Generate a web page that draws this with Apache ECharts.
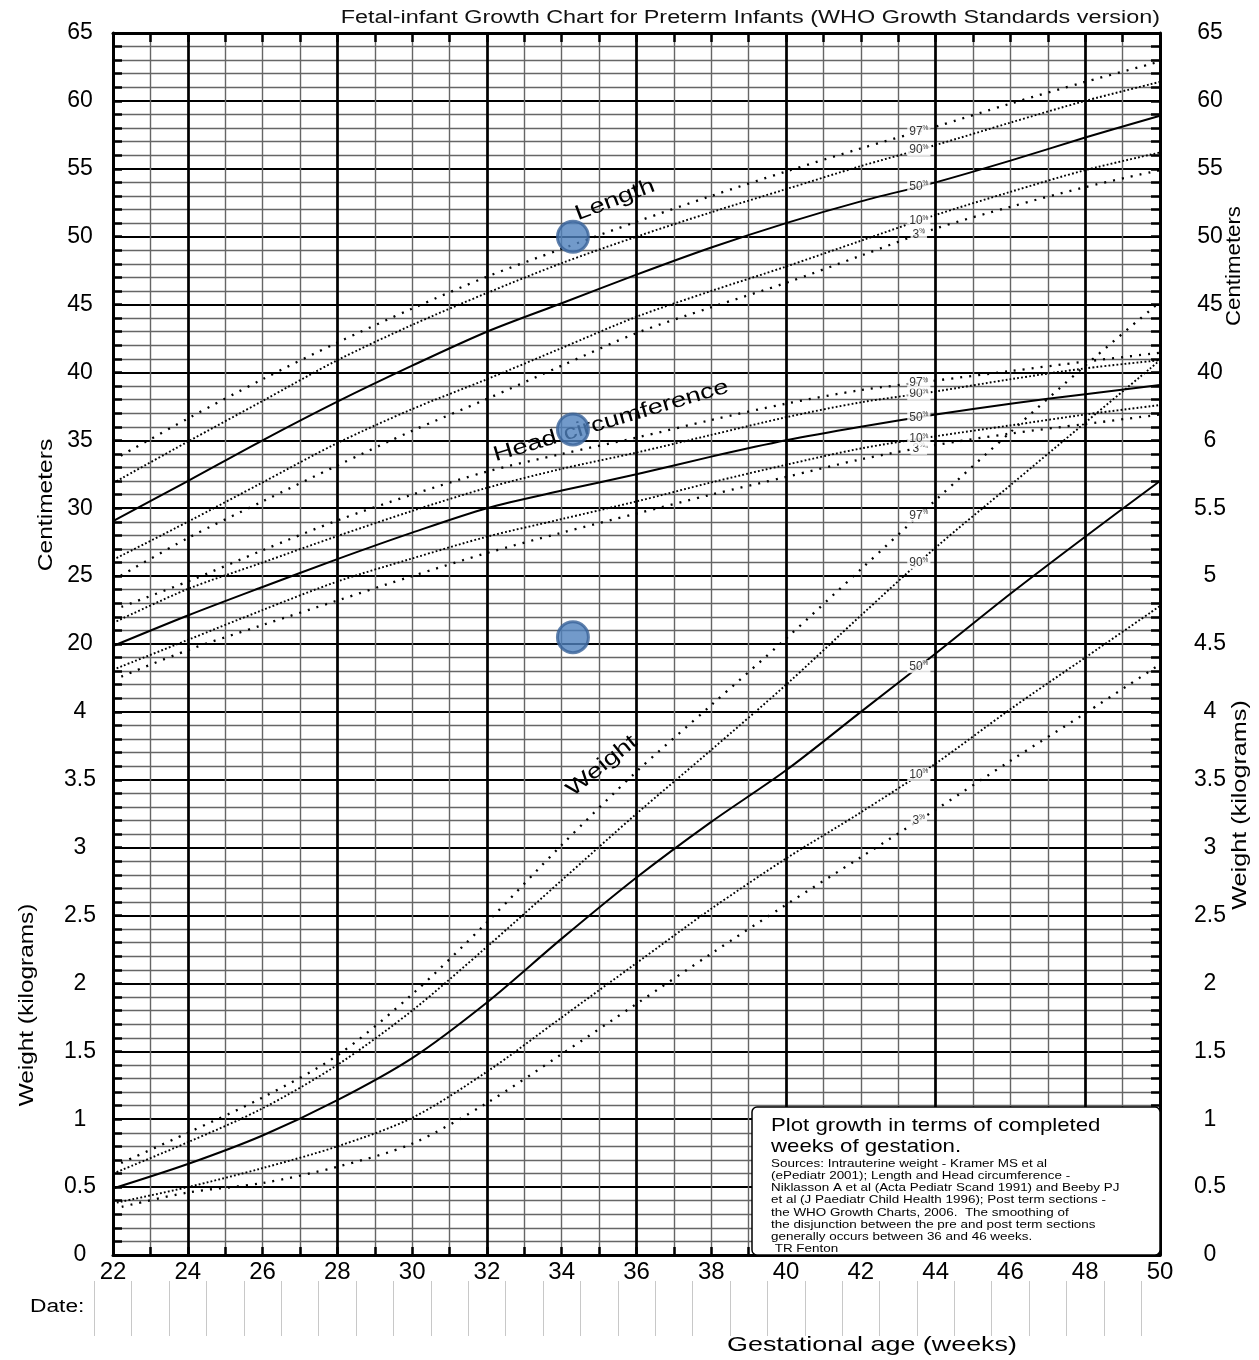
<!DOCTYPE html>
<html>
<head>
<meta charset="utf-8">
<title>Fetal-infant Growth Chart for Preterm Infants</title>
<script src="https://cdn.jsdelivr.net/npm/echarts@6.0.0/dist/echarts.min.js"></script>
<style>
html, body { margin: 0; padding: 0; background: #fff; }
#main { width: 1259px; height: 1360px; }
</style>
</head>
<body>
<div id="main"></div>
<script>
// gestational weeks of the curve points
var weeks = [22, 24, 26, 28, 30, 32, 34, 36, 38, 40, 42, 44, 46, 48, 50];

// length (cm)
var len97 = [33.55, 36.6, 39.5, 42.2, 44.7, 47.05, 49.1, 51.1, 53.0, 54.8, 56.5, 58.1, 59.8, 61.4, 62.9];
var len90 = [31.85, 34.9, 37.9, 40.9, 43.5, 45.85, 48.05, 50.0, 51.8, 53.5, 55.2, 56.75, 58.4, 60.0, 61.4];
var len50 = [29.05, 32.0, 35.0, 37.85, 40.5, 43.0, 45.1, 47.2, 49.2, 51.0, 52.6, 54.0, 55.6, 57.3, 58.9];
var len10 = [26.2, 29.0, 31.9, 34.8, 37.3, 39.5, 41.8, 44.1, 46.0, 47.8, 49.7, 51.6, 53.3, 54.9, 56.2];
var len3 = [24.7, 27.8, 30.5, 33.15, 35.7, 38.05, 40.5, 42.9, 44.8, 46.6, 48.6, 50.6, 52.2, 53.65, 54.9];

// head circumference (cm)
var head97 = [22.5, 24.6, 26.9, 29.1, 31.0, 32.7, 34.0, 35.2, 36.5, 37.7, 38.7, 39.4, 40.1, 40.8, 41.45];
var head90 = [21.55, 24.05, 26.0, 27.95, 29.8, 31.5, 32.9, 34.1, 35.4, 36.7, 37.8, 38.6, 39.5, 40.3, 40.9];
var head50 = [19.85, 22.1, 24.2, 26.25, 28.2, 30.0, 31.3, 32.5, 33.8, 35.0, 36.0, 36.9, 37.7, 38.4, 39.07];
var head10 = [18.1, 20.3, 22.5, 24.6, 26.3, 27.9, 29.2, 30.5, 31.9, 33.2, 34.4, 35.3, 36.1, 36.9, 37.6];
var head3 = [17.35, 19.55, 21.4, 23.2, 25.0, 26.7, 28.2, 29.6, 31.0, 32.3, 33.6, 34.65, 35.5, 36.2, 36.9];

// weight (kg)
var wt97 = [0.65, 0.90, 1.16, 1.47, 1.92, 2.45, 3.02, 3.56, 4.05, 4.54, 5.05, 5.56, 6.06, 6.55, 7.02];
var wt90 = [0.60, 0.83, 1.08, 1.40, 1.80, 2.27, 2.76, 3.25, 3.72, 4.20, 4.71, 5.21, 5.67, 6.13, 6.59];
var wt50 = [0.49, 0.67, 0.88, 1.14, 1.45, 1.86, 2.33, 2.78, 3.19, 3.57, 4.00, 4.43, 4.87, 5.29, 5.70];
var wt10 = [0.38, 0.50, 0.64, 0.80, 1.01, 1.35, 1.75, 2.15, 2.55, 2.92, 3.26, 3.62, 4.02, 4.40, 4.78];
var wt3 = [0.34, 0.46, 0.53, 0.65, 0.82, 1.12, 1.48, 1.85, 2.22, 2.58, 2.93, 3.28, 3.64, 3.99, 4.35];

// plotted measurements of the infant
var babyWeek = 34.3;
var babyLength = 50.0;
var babyHead = 35.8;
var babyWeight = 4.55;

// tick labels of the two vertical axes (one per 5 units of the shared scale)
var leftTicks = ['0', '0.5', '1', '1.5', '2', '2.5', '3', '3.5', '4', '20', '25', '30', '35', '40', '45', '50', '55', '60', '65'];
var rightTicks = ['0', '0.5', '1', '1.5', '2', '2.5', '3', '3.5', '4', '4.5', '5', '5.5', '6', '40', '45', '50', '55', '60', '65'];
var boldWeeks = [24, 28, 32, 36, 40, 44, 48];
var pctNames = ['3', '10', '50', '90', '97'];

var FONT = '"Liberation Sans", Arial, sans-serif';

// both measures share one scale: cm -> c + 25, kg -> kg * 10
function cm(v) { return v + 25; }
function kg(v) { return v * 10; }

function pairs(arr, f) {
  return weeks.map(function (w, i) { return [w, f(arr[i])]; });
}
function at(arr, w) {
  for (var i = 0; i < weeks.length - 1; i++) {
    if (w >= weeks[i] && w <= weeks[i + 1]) {
      var t = (w - weeks[i]) / (weeks[i + 1] - weeks[i]);
      return arr[i] + t * (arr[i + 1] - arr[i]);
    }
  }
  return arr[arr.length - 1];
}

var groups = [
  { arr: [len3, len10, len50, len90, len97], f: cm },
  { arr: [head3, head10, head50, head90, head97], f: cm },
  { arr: [wt3, wt10, wt50, wt90, wt97], f: kg }
];

var lineStyles = {
  '3': { color: '#000', width: 2.3, type: [2, 7] },
  '10': { color: '#000', width: 1.9, type: [1.8, 2.2] },
  '50': { color: '#000', width: 2, type: 'solid' },
  '90': { color: '#000', width: 1.9, type: [1.8, 2.2] },
  '97': { color: '#000', width: 2.3, type: [2, 7] }
};

var series = [];
var labelData = [];
groups.forEach(function (g) {
  g.arr.forEach(function (a, k) {
    series.push({
      type: 'line',
      xAxisIndex: 0,
      yAxisIndex: 0,
      data: pairs(a, g.f),
      smooth: 0.3,
      showSymbol: false,
      silent: true,
      lineStyle: lineStyles[pctNames[k]],
      z: 3
    });
    labelData.push({ value: [43.55, g.f(at(a, 43.55))], pct: pctNames[k] });
  });
});

// bold vertical grid lines
series.push({
  type: 'line',
  xAxisIndex: 0,
  yAxisIndex: 0,
  data: [[22, 0]],
  showSymbol: false,
  lineStyle: { opacity: 0 },
  silent: true,
  z: 1,
  markLine: {
    silent: true,
    symbol: ['none', 'none'],
    label: { show: false },
    lineStyle: { color: '#000', width: 2.7, type: 'solid' },
    data: boldWeeks.map(function (w) { return { xAxis: w }; })
  }
});

// percentile labels
series.push({
  type: 'scatter',
  xAxisIndex: 0,
  yAxisIndex: 0,
  data: labelData,
  symbolSize: 0,
  silent: true,
  z: 6,
  label: {
    show: true,
    position: 'inside',
    backgroundColor: '#fff',
    padding: [0, 2, 0, 2],
    formatter: function (p) { return '{n|' + p.data.pct + '}{s|%}'; },
    rich: {
      n: { fontSize: 12, fontFamily: FONT, color: '#000' },
      s: { fontSize: 6.5, fontFamily: FONT, color: '#000', padding: [0, 0, 6, 0] }
    }
  }
});

// infant measurements
series.push({
  type: 'scatter',
  xAxisIndex: 0,
  yAxisIndex: 0,
  data: [[babyWeek, cm(babyLength)], [babyWeek, cm(babyHead)], [babyWeek, kg(babyWeight)]],
  symbol: 'circle',
  symbolSize: 31,
  silent: true,
  z: 8,
  itemStyle: { color: '#4F81BD', borderColor: '#3A6398', borderWidth: 3 }
});

// date row (grid 1)
series.push({ type: 'line', xAxisIndex: 2, yAxisIndex: 2, data: [], silent: true });

function txt(x, y, text, size, sx, rot, extra) {
  var el = {
    type: 'text', x: x, y: y, scaleX: sx, rotation: (rot || 0) * Math.PI / 180, z: 10,
    style: { text: text, fontSize: size, fontFamily: FONT, fill: '#000', align: 'center', verticalAlign: 'middle' }
  };
  if (extra) { Object.assign(el.style, extra); }
  return el;
}

var option = {
  animation: false,
  backgroundColor: '#fff',
  grid: [
    { left: 113, right: 99, top: 33, bottom: 105 },
    { left: 94.3, width: 1047, top: 1281, height: 55 }
  ],
  xAxis: [
    {
      gridIndex: 0, type: 'value', min: 22, max: 50, interval: 1, position: 'bottom',
      axisLine: { show: true, onZero: false, lineStyle: { color: '#000', width: 3 } },
      axisTick: { show: true, inside: true, length: 8, lineStyle: { color: '#000', width: 2.5 } },
      axisLabel: {
        fontSize: 24, color: '#000', fontFamily: FONT, margin: 5,
        formatter: function (v) { return v % 2 === 0 ? String(v) : ''; }
      },
      splitLine: { show: true, lineStyle: { color: '#666', width: 1.4 } }
    },
    {
      gridIndex: 0, type: 'value', min: 22, max: 50, interval: 1, position: 'top',
      axisLine: { show: true, onZero: false, lineStyle: { color: '#000', width: 3 } },
      axisTick: { show: true, inside: true, length: 9, lineStyle: { color: '#000', width: 2.5 } },
      axisLabel: { show: false },
      splitLine: { show: false }
    },
    {
      gridIndex: 1, type: 'value', min: 0, max: 28, interval: 1,
      axisLine: { show: false }, axisTick: { show: false }, axisLabel: { show: false },
      splitLine: { show: true, lineStyle: { color: '#c8c8c8', width: 1 } }
    }
  ],
  yAxis: [
    {
      gridIndex: 0, type: 'value', min: 0, max: 90, interval: 5, position: 'left',
      axisLine: { show: true, onZero: false, lineStyle: { color: '#000', width: 3 } },
      axisTick: { show: true, inside: true, length: 9, lineStyle: { color: '#000', width: 2.5 } },
      minorTick: { show: true, splitNumber: 5, length: 9, lineStyle: { color: '#000', width: 2.5 } },
      axisLabel: {
        fontSize: 23, color: '#000', fontFamily: FONT, margin: 33, align: 'center',
        formatter: function (v) { return leftTicks[Math.round(v / 5)]; }
      },
      splitLine: { show: true, lineStyle: { color: '#000', width: 2.2 } },
      minorSplitLine: { show: true, lineStyle: { color: '#666', width: 1.3 } }
    },
    {
      gridIndex: 0, type: 'value', min: 0, max: 90, interval: 5, position: 'right',
      axisLine: { show: true, onZero: false, lineStyle: { color: '#000', width: 3 } },
      axisTick: { show: true, inside: true, length: 9, lineStyle: { color: '#000', width: 2.5 } },
      minorTick: { show: true, splitNumber: 5, length: 9, lineStyle: { color: '#000', width: 2.5 } },
      axisLabel: {
        fontSize: 23, color: '#000', fontFamily: FONT, margin: 50, align: 'center',
        formatter: function (v) { return rightTicks[Math.round(v / 5)]; }
      },
      splitLine: { show: false }
    },
    {
      gridIndex: 1, type: 'value', min: 0, max: 1,
      axisLine: { show: false }, axisTick: { show: false }, axisLabel: { show: false },
      splitLine: { show: false }
    }
  ],
  series: series,
  graphic: [
    // title
    txt(1160, 18, 'Fetal-infant Growth Chart for Preterm Infants (WHO Growth Standards version)', 18, 1.3, 0, { align: 'right', fill: '#111' }),
    // axis names
    txt(46, 505, 'Centimeters', 21, 1.17, 90),
    txt(27, 1005, 'Weight (kilograms)', 21, 1.16, 90),
    txt(1234, 266, 'Centimeters', 21, 1.06, 90),
    txt(1240, 805, 'Weight (kilograms)', 21, 1.2, 90),
    // curve names
    Object.assign(txt(615, 200, 'Length', 21, 1.3, 21), { z: 1 }),
    Object.assign(txt(611, 421, 'Head circumference', 21, 1.3, 16.5), { z: 1 }),
    Object.assign(txt(602, 766, 'Weight', 21, 1.3, 39), { z: 1 }),
    // date row and x axis name
    txt(30, 1307, 'Date:', 17.5, 1.3, 0, { align: 'left' }),
    txt(872, 1345, 'Gestational age (weeks)', 21, 1.28, 0),
    // note box
    { type: 'rect', z: 100, shape: { x: 752, y: 1107, width: 408, height: 148, r: 5 },
      style: { fill: '#fff', stroke: '#000', lineWidth: 1.5 } },
    Object.assign(txt(771, 1136, 'Plot growth in terms of completed\nweeks of gestation.', 18.5, 1.2, 0,
      { align: 'left', lineHeight: 21 }), { z: 101 }),
    Object.assign(txt(771, 1206.5,
      'Sources: Intrauterine weight - Kramer MS et al\n(ePediatr 2001); Length and Head circumference -\nNiklasson A et al (Acta Pediatr Scand 1991) and Beeby PJ\net al (J Paediatr Child Health 1996); Post term sections -\nthe WHO Growth Charts, 2006.  The smoothing of\nthe disjunction between the pre and post term sections\ngenerally occurs between 36 and 46 weeks.\n TR Fenton',
      11, 1.22, 0, { align: 'left', lineHeight: 12.2 }), { z: 101 })
  ]
};

var myChart = echarts.init(document.getElementById('main'));
myChart.setOption(option);
</script>
</body>
</html>
